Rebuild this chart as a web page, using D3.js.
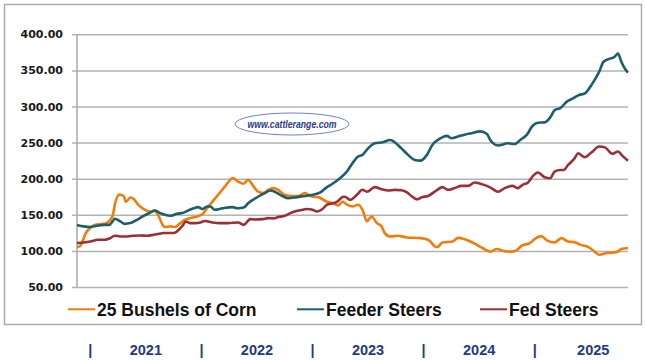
<!DOCTYPE html>
<html>
<head>
<meta charset="utf-8">
<script src="https://cdn.jsdelivr.net/npm/d3@7"></script>
<style>
  html, body { margin: 0; padding: 0; background: #ffffff; }
  svg { display: block; }
</style>
</head>
<body>
<svg id="chart" width="645" height="360"></svg>
<script>
// ---- data (x = decimal year, y = price) ----
const yTicks = [50, 100, 150, 200, 250, 300, 350, 400];
const years = [2021, 2022, 2023, 2024, 2025];
const seriesNames = ["25 Bushels of Corn", "Feeder Steers", "Fed Steers"];

const corn = [
  [2020.88,105],[2020.91,107],[2020.96,125],[2021.00,132],[2021.04,136],[2021.12,137.5],[2021.15,139],
  [2021.20,148],[2021.22,164],[2021.26,178],[2021.30,176],[2021.32,168],[2021.36,174],[2021.39,172],
  [2021.43,164],[2021.48,158],[2021.54,154.6],[2021.58,155.5],[2021.61,150],[2021.65,136],[2021.67,133],
  [2021.72,134],[2021.76,133],[2021.81,138.5],[2021.85,143],[2021.90,145.4],[2021.96,147.7],[2022.01,151],
  [2022.05,159],[2022.15,177.7],[2022.21,189],[2022.26,198.4],[2022.28,201],[2022.33,196],[2022.38,193],
  [2022.42,198.4],[2022.47,189],[2022.51,182],[2022.56,180],[2022.60,184.6],[2022.65,187],[2022.69,184.6],
  [2022.75,177.7],[2022.82,176],[2022.87,176],[2022.93,180],[2023.00,175],[2023.05,174.5],[2023.13,168],
  [2023.18,166],[2023.23,163],[2023.27,168],[2023.31,164],[2023.36,161.5],[2023.41,164],[2023.45,157],
  [2023.49,141],[2023.53,147.7],[2023.58,138.5],[2023.62,134],[2023.65,124.7],[2023.70,120],[2023.77,121],
  [2023.85,118.6],[2023.97,117.7],[2024.04,115.4],[2024.12,105],[2024.17,111.7],[2024.26,113],[2024.31,118],
  [2024.40,114.5],[2024.46,110],[2024.53,104],[2024.60,99],[2024.66,102.6],[2024.73,99.5],[2024.79,99],
  [2024.84,101],[2024.88,107],[2024.96,111],[2025.00,116.4],[2025.06,120.5],[2025.11,114.5],[2025.18,111.7],
  [2025.24,117.7],[2025.30,113],[2025.36,112],[2025.42,108],[2025.48,105.5],[2025.54,99],[2025.58,94.6],
  [2025.65,97],[2025.74,98.6],[2025.78,102.6],[2025.84,104]
];

const feeder = [
  [2020.88,136],[2020.94,134],[2021.00,133],[2021.06,134.8],[2021.12,136],[2021.17,136],[2021.20,140.8],
  [2021.22,144.5],[2021.27,140.8],[2021.31,137.5],[2021.36,138.5],[2021.42,143],[2021.48,148.6],[2021.54,153],
  [2021.58,156],[2021.62,153],[2021.67,150],[2021.72,148.6],[2021.78,151.4],[2021.84,153],[2021.88,156],
  [2021.93,159],[2021.97,160.6],[2022.01,158],[2022.05,161.5],[2022.08,161.5],[2022.12,157],[2022.19,159],
  [2022.28,160.6],[2022.33,159],[2022.38,160],[2022.42,166],[2022.51,175],[2022.57,180],[2022.62,183.6],
  [2022.66,182],[2022.73,176],[2022.78,173],[2022.86,174.5],[2022.93,176],[2023.00,177.7],[2023.07,181],
  [2023.13,188.3],[2023.18,193],[2023.25,201],[2023.31,210],[2023.36,221.5],[2023.41,230.7],[2023.45,233],
  [2023.50,242],[2023.56,249],[2023.63,250.5],[2023.70,253.7],[2023.74,250.5],[2023.80,242],[2023.86,233],
  [2023.92,226],[2023.97,225],[2024.03,233],[2024.08,247],[2024.15,256],[2024.21,259.3],[2024.25,256],
  [2024.31,258.5],[2024.37,261],[2024.43,263],[2024.51,265.5],[2024.57,262],[2024.60,253.7],[2024.62,250],
  [2024.67,246],[2024.76,249],[2024.82,248],[2024.87,253.7],[2024.93,261],[2024.98,273],[2025.03,277.5],
  [2025.09,278],[2025.14,285],[2025.18,295],[2025.23,297.7],[2025.29,306.8],[2025.34,311],[2025.40,316],
  [2025.45,318],[2025.52,332],[2025.58,348],[2025.62,362],[2025.67,366],[2025.72,369],[2025.75,373.5],
  [2025.78,362],[2025.81,353],[2025.84,347]
];

const fed = [
  [2020.88,111],[2020.94,111.7],[2021.00,113],[2021.07,115.4],[2021.13,115.4],[2021.18,117.7],[2021.22,121],
  [2021.27,120],[2021.33,120],[2021.39,121],[2021.45,121.4],[2021.51,121],[2021.57,122.3],[2021.62,123.7],
  [2021.66,124.7],[2021.75,124.7],[2021.78,127],[2021.83,134.8],[2021.86,140.8],[2021.90,138.5],[2021.94,138.5],
  [2021.99,139.4],[2022.03,141.5],[2022.10,139.4],[2022.17,138.5],[2022.24,138.5],[2022.33,139.4],[2022.38,136],
  [2022.44,144],[2022.48,143.5],[2022.55,144],[2022.60,145.4],[2022.65,145],[2022.69,146.8],[2022.75,148.6],
  [2022.80,152.3],[2022.84,154.6],[2022.91,157],[2022.95,158],[2023.00,157],[2023.04,154.6],[2023.09,158],
  [2023.13,164],[2023.18,166],[2023.22,168],[2023.27,174.5],[2023.29,175],[2023.34,170.7],[2023.40,177.7],
  [2023.45,184.6],[2023.49,182],[2023.56,188.3],[2023.62,185.5],[2023.68,183.6],[2023.74,184.5],[2023.80,184],
  [2023.85,181],[2023.89,176],[2023.94,171.4],[2023.99,174.5],[2024.04,176],[2024.10,182],[2024.17,188.3],
  [2024.22,184.6],[2024.28,187],[2024.34,190],[2024.40,190],[2024.46,194.7],[2024.51,193],[2024.57,190],
  [2024.61,187],[2024.67,182],[2024.73,187],[2024.80,190],[2024.85,187],[2024.89,191.5],[2024.94,194.7],
  [2024.98,203],[2025.03,208.5],[2025.09,202],[2025.14,200.7],[2025.18,210],[2025.23,212],[2025.26,212],
  [2025.30,219],[2025.36,228.4],[2025.39,235.3],[2025.45,229.7],[2025.51,236.2],[2025.58,244.5],[2025.63,243.7],
  [2025.70,234.4],[2025.75,237.6],[2025.79,231.6],[2025.84,225]
];

const seriesData = [corn, feeder, fed];
const colors = ["#F07C0C", "#1C5E69", "#9A3033"];

// ---- layout ----
const svg = d3.select("#chart");
const plot = { left: 77, right: 628, top: 34.3, bottom: 287 };

const x = d3.scaleLinear().domain([2020.88, 2025.84]).range([plot.left, plot.right]);
const y = d3.scaleLinear().domain([50, 400]).range([plot.bottom, plot.top]);

// outer frame
svg.append("rect")
  .attr("x", 4.5).attr("y", 4.5).attr("width", 637).attr("height", 320)
  .attr("fill", "#ffffff").attr("stroke", "#ababab").attr("stroke-width", 1.5);

// y axis with gridlines
const yAxis = d3.axisLeft(y)
  .tickValues(yTicks)
  .tickSize(-(plot.right - plot.left))
  .tickPadding(14)
  .tickFormat(d3.format(".2f"));

const gy = svg.append("g")
  .attr("transform", `translate(${plot.left},0)`)
  .call(yAxis);
gy.select(".domain").remove();
gy.selectAll(".tick line")
  .attr("x1", -5)
  .attr("stroke", "#b3b3b3").attr("stroke-width", 1.5);
gy.selectAll(".tick text")
  .attr("font-family", "'DejaVu Sans', Verdana, sans-serif")
  .attr("font-weight", "bold")
  .attr("font-size", 11)
  .attr("fill", "#1a1a1a");

// left axis line
svg.append("line")
  .attr("x1", plot.left).attr("x2", plot.left)
  .attr("y1", y(400)).attr("y2", y(50))
  .attr("stroke", "#a9a9a9").attr("stroke-width", 1.5);

// watermark
const wm = svg.append("g").attr("transform", "translate(292,124)");
wm.append("ellipse")
  .attr("rx", 57).attr("ry", 11)
  .attr("fill", "#ffffff").attr("stroke", "#6f7fcf").attr("stroke-width", 1);
wm.append("text")
  .attr("x", -44.5).attr("y", 3.8)
  .attr("font-family", "'Liberation Sans', Arial, sans-serif")
  .attr("font-style", "italic").attr("font-weight", "bold")
  .attr("font-size", 11)
  .attr("textLength", 89).attr("lengthAdjust", "spacingAndGlyphs")
  .attr("fill", "#2b3a8f")
  .text("www.cattlerange.com");

// series lines
const line = d3.line()
  .x(d => x(d[0]))
  .y(d => y(d[1]))
  .curve(d3.curveMonotoneX);

seriesData.forEach((s, i) => {
  svg.append("path")
    .datum(s)
    .attr("fill", "none")
    .attr("stroke", colors[i])
    .attr("stroke-width", 2.6)
    .attr("stroke-linejoin", "round")
    .attr("d", line);
});

// legend
const legendX = [68, 297, 480];
const legendY = 309.3;
seriesNames.forEach((name, i) => {
  svg.append("line")
    .attr("x1", legendX[i]).attr("x2", legendX[i] + 27)
    .attr("y1", legendY).attr("y2", legendY)
    .attr("stroke", colors[i]).attr("stroke-width", 2);
  svg.append("text")
    .attr("x", legendX[i] + 29).attr("y", 315.7)
    .attr("font-family", "'Liberation Sans', Arial, sans-serif")
    .attr("font-weight", "bold")
    .attr("font-size", 17.5)
    .attr("fill", "#111111")
    .text(name);
});

// year labels below the chart
const yearFont = "'Liberation Sans', Arial, sans-serif";
years.forEach(yr => {
  svg.append("text")
    .attr("x", x(yr)).attr("y", 355)
    .attr("text-anchor", "middle")
    .attr("font-family", yearFont).attr("font-weight", "bold")
    .attr("font-size", 14.5).attr("fill", "#1f3a8c")
    .text("|");
  svg.append("text")
    .attr("x", x(yr + 0.5) + (yr === 2025 ? 3 : 0)).attr("y", 355)
    .attr("text-anchor", "middle")
    .attr("font-family", yearFont).attr("font-weight", "bold")
    .attr("font-size", 14.5).attr("fill", "#1f3a8c")
    .text(yr);
});
</script>
</body>
</html>
